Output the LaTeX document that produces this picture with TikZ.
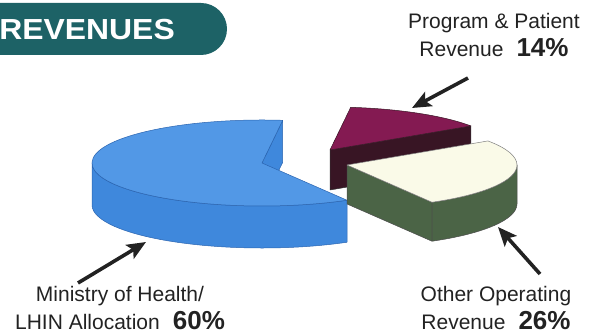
\documentclass[tikz,border=0pt]{standalone}
\usepackage{fontspec}
\setmainfont{Liberation Sans}
\usetikzlibrary{arrows.meta, calc}

\definecolor{bannerteal}{HTML}{1D6266}
\definecolor{bluetop}{HTML}{5298E6}
\definecolor{blueside}{HTML}{3F88DC}
\definecolor{blueline}{HTML}{2A64B0}
\definecolor{maroontop}{HTML}{841A52}
\definecolor{maroonside}{HTML}{381524}
\definecolor{creamtop}{HTML}{FAFAE8}
\definecolor{creamside}{HTML}{4B6446}
\definecolor{textgray}{HTML}{222222}

\tikzset{
  pointer/.style={draw=textgray, line width=3.6pt, -{Stealth[length=19pt, width=16pt, inset=4pt]}},
  piecaption/.style={font=\fontsize{21}{28}\selectfont, align=center, inner sep=0pt, text=textgray},
  rim/.style={line width=0.5pt, line join=round},
}
\newcommand{\pctval}[1]{\hspace{13pt}{\fontsize{26}{28}\selectfont\bfseries #1}}

\begin{document}
\begin{tikzpicture}[x=1pt, y=-1pt]
				  \useasboundingbox (0,0) rectangle (592,336);
				  \clip (0,0) rectangle (592,336);
				  \fill[bannerteal, rounded corners=26pt] (-40,3) rectangle (227,55);
				  \node[anchor=base east, inner sep=0pt, text=white] (title) at (175,40) {\scalebox{1.1}[1]{\fontsize{29}{30}\selectfont\bfseries REVENUES}};
				  \coordinate (M) at (330,150);
				  \coordinate (B) at (262,163);
				  \coordinate (C) at (347,165);
				  \filldraw[rim, fill=maroonside, draw=black!80] (M) -- ($(M)+(-34:170 and 43)$) -- ++(0,40) -- ($(M)+(0,40)$) -- cycle;
				  \filldraw[rim, fill=maroontop, draw=maroonside] (M) -- ($(M)+(-34:170 and 43)$) arc[start angle=-34, end angle=-83, x radius=170, y radius=43] -- cycle;
				  \filldraw[rim, fill=blueside, draw=blueline] (B) -- ($(B)+(-83:170 and 43)$) -- ++(0,42) -- ($(B)+(0,42)$) -- cycle;
				  \filldraw[rim, fill=blueside, draw=blueline] ($(B)+(-180:170 and 43)$) arc[start angle=-180, end angle=-300, x radius=170, y radius=43] -- ++(0,42) arc[start angle=-300, end angle=-180, x radius=170, y radius=43] -- cycle;
				  \filldraw[rim, fill=bluetop, draw=blueline] (B) -- ($(B)+(-83:170 and 43)$) arc[start angle=-83, end angle=-300, x radius=170, y radius=43] -- cycle;
				  \filldraw[rim, fill=creamside, draw=black!70] (C) -- ($(C)+(60:170 and 43)$) -- ++(0,39) -- ($(C)+(0,39)$) -- cycle;
				  \filldraw[rim, fill=creamside, draw=black!70] ($(C)+(60:170 and 43)$) arc[start angle=60, end angle=0, x radius=170, y radius=43] -- ++(0,39) arc[start angle=0, end angle=60, x radius=170, y radius=43] -- cycle;
				  \filldraw[rim, fill=creamtop, draw=black!50] (C) -- ($(C)+(60:170 and 43)$) arc[start angle=60, end angle=-34, x radius=170, y radius=43] -- cycle;
				  \node[piecaption] (progLabel) at (494,35) {Program \& Patient\\Revenue\pctval{14\%}};
				  \node[piecaption] (healthLabel) at (120,308.5) {Ministry of Health/\\LHIN Allocation\pctval{60\%}};
				  \node[piecaption] (otherLabel) at (496,308.5) {Other Operating\\Revenue\pctval{26\%}};
				  \coordinate (progTail) at (468,78);
				  \coordinate (progTip) at (412,108);
				  \coordinate (healthTail) at (78,283);
				  \coordinate (healthTip) at (146,242);
				  \coordinate (otherTail) at (540,274);
				  \coordinate (otherTip) at (498,227);
				  \draw[pointer] (progTail) -- (progTip);
				  \draw[pointer] (healthTail) -- (healthTip);
				  \draw[pointer] (otherTail) -- (otherTip);
				\end{tikzpicture}
\end{document}
